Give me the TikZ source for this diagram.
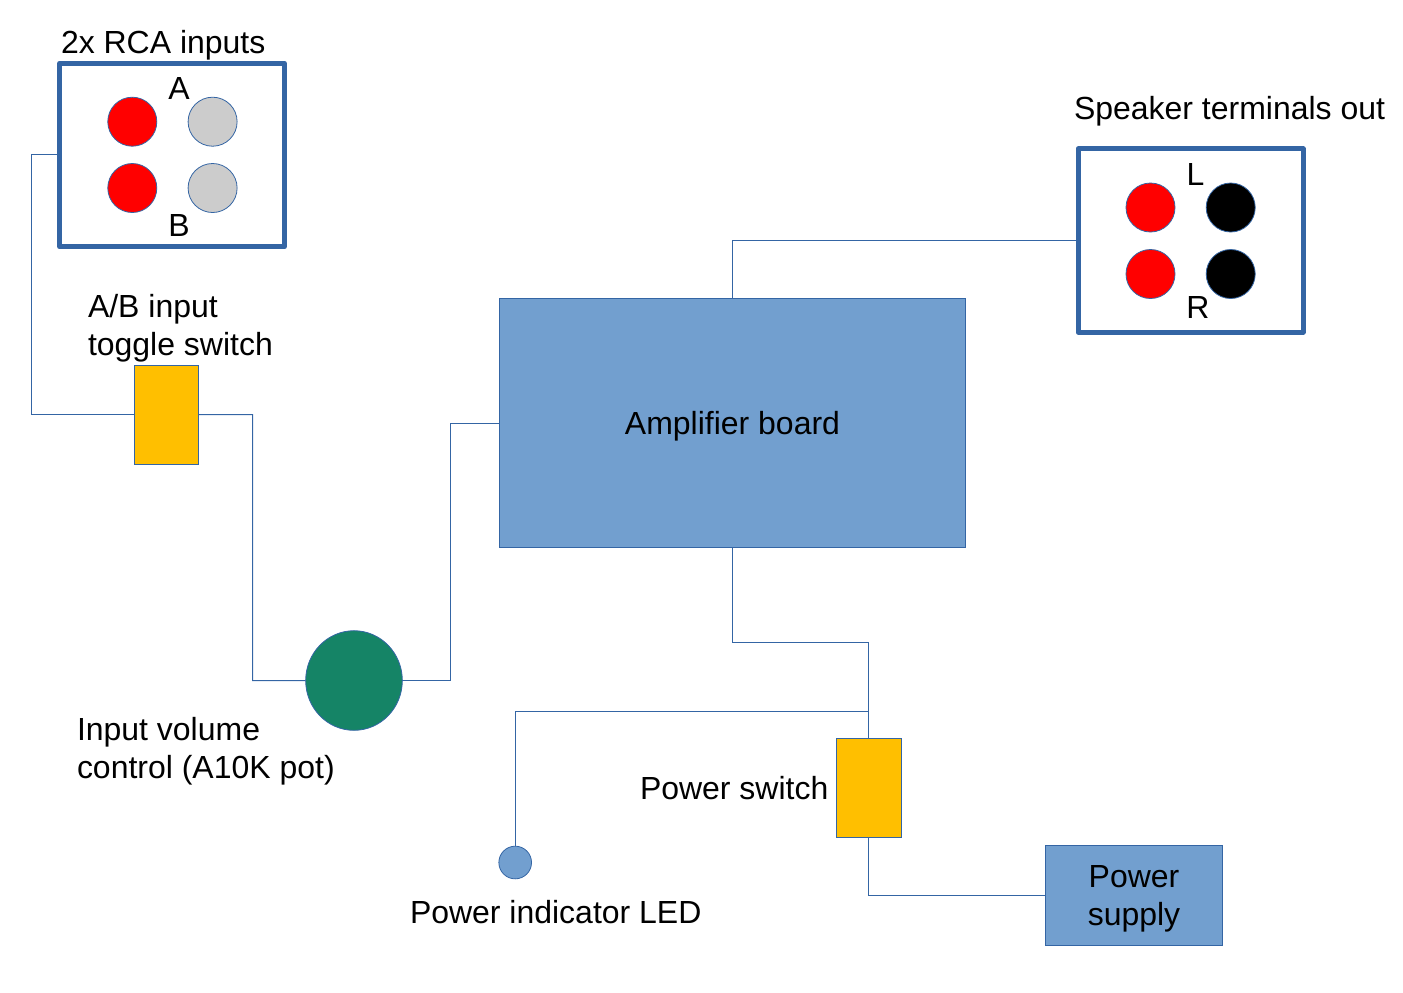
\documentclass[tikz,border=0pt]{standalone}
\usepackage{fontspec}
\usetikzlibrary{shapes.geometric}
\setmainfont{Liberation Sans}
\definecolor{lineblue}{HTML}{3465A4}
\definecolor{boardblue}{HTML}{729FCF}
\definecolor{switchyellow}{HTML}{FFBF00}
\definecolor{potgreen}{HTML}{158466}
\definecolor{rcagrey}{HTML}{CCCCCC}
\tikzset{
  panel/.style={draw=lineblue, line width=2.8pt, line join=round, fill=white, inner sep=0pt, outer sep=0pt},
  part/.style={draw=lineblue, line width=0.45pt, inner sep=0pt, outer sep=0pt, align=center},
  jack/.style={draw=lineblue, line width=0.45pt, circle, inner sep=0pt, outer sep=0pt, minimum size=27.9pt},
  wire/.style={draw=lineblue, line width=0.57pt},
  label/.style={inner sep=0pt, outer sep=0pt, anchor=base west, align=left}
}
\begin{document}
\begin{tikzpicture}[x=0.02cm, y=-0.02cm, font=\fontsize{18.2pt}{21.5pt}\selectfont]
        \useasboundingbox (0,0) rectangle (1403,992);
        \node[panel, minimum width=128pt, minimum height=104.4pt] (rca) at (172,155) {};
        \node[panel, minimum width=128pt, minimum height=104.4pt] (spk) at (1190.7,240.5) {};
        \node[part, fill=boardblue, minimum width=265.2pt, minimum height=141.7pt, text depth=0.5pt] (amp) at (732.5,423) {Amplifier board};
        \node[part, fill=switchyellow, minimum width=36.4pt, minimum height=56.4pt] (abswitch) at (166.5,414.7) {};
        \node[part, fill=switchyellow, minimum width=36.8pt, minimum height=56.7pt] (pwrswitch) at (869,788) {};
        \node[part, fill=potgreen, ellipse, minimum width=55pt, minimum height=56.7pt] (pot) at (354,680.5) {};
        \node[part, fill=boardblue, circle, minimum size=18.6pt] (led) at (515.2,862.5) {};
        \node[part, fill=boardblue, minimum width=100.5pt, minimum height=57pt, text depth=-1.1pt] (psu) at (1134,895.5) {Power\\supply};

        \node[jack, fill=red] (a1) at (132.3,121.7) {};
        \node[jack, fill=rcagrey] (a2) at (212.6,121.7) {};
        \node[jack, fill=red] (b1) at (132.3,188) {};
        \node[jack, fill=rcagrey] (b2) at (212.6,188) {};
        \node[jack, fill=red] (l1) at (1150.5,207.5) {};
        \node[jack, fill=black] (l2) at (1230.7,207.5) {};
        \node[jack, fill=red] (r1) at (1150.5,274) {};
        \node[jack, fill=black] (r2) at (1230.7,274) {};

        \node[label] (rcatitle) at (61,53) {2x RCA inputs};
        \node[label] (spktitle) at (1074,119) {Speaker terminals out};
        \node[inner sep=0pt] (alabel) at (179,88) {A};
        \node[inner sep=0pt] (blabel) at (179,225) {B};
        \node[inner sep=0pt] (llabel) at (1195.5,174) {L};
        \node[inner sep=0pt] (rlabel) at (1198,307) {R};
        \node[label] (ablabel) at (88,355.5) {A/B input\\toggle switch};
        \node[label] (potlabel) at (77,778) {Input volume\\control (A10K pot)};
        \node[label] (pwrlabel) at (640,799) {Power switch};
        \node[label] (ledlabel) at (410,923) {Power indicator LED};

        \coordinate (rcabend) at (31.5,154.5);
        \coordinate (abbend) at (252.5,414.5);
        \coordinate (potbend) at (450.5,680.5);
        \coordinate (ampbend) at (868.5,642.5);
        \coordinate (tap) at (868.5,711.5);

        \draw[wire] (rca.west |- rcabend) -- (rcabend) |- (abswitch.west);
        \draw[wire] (abswitch.east) -- (abbend) |- (pot.west);
        \draw[wire] (pot.east) -- (potbend) |- (amp.west);
        \draw[wire] (amp.north) |- (spk.west);
        \draw[wire] (amp.south) |- (ampbend) -- (pwrswitch.north -| ampbend);
        \draw[wire] (led.north) |- (tap);
        \draw[wire] (pwrswitch.south -| ampbend) |- (psu.west);
    \end{tikzpicture}
\end{document}
